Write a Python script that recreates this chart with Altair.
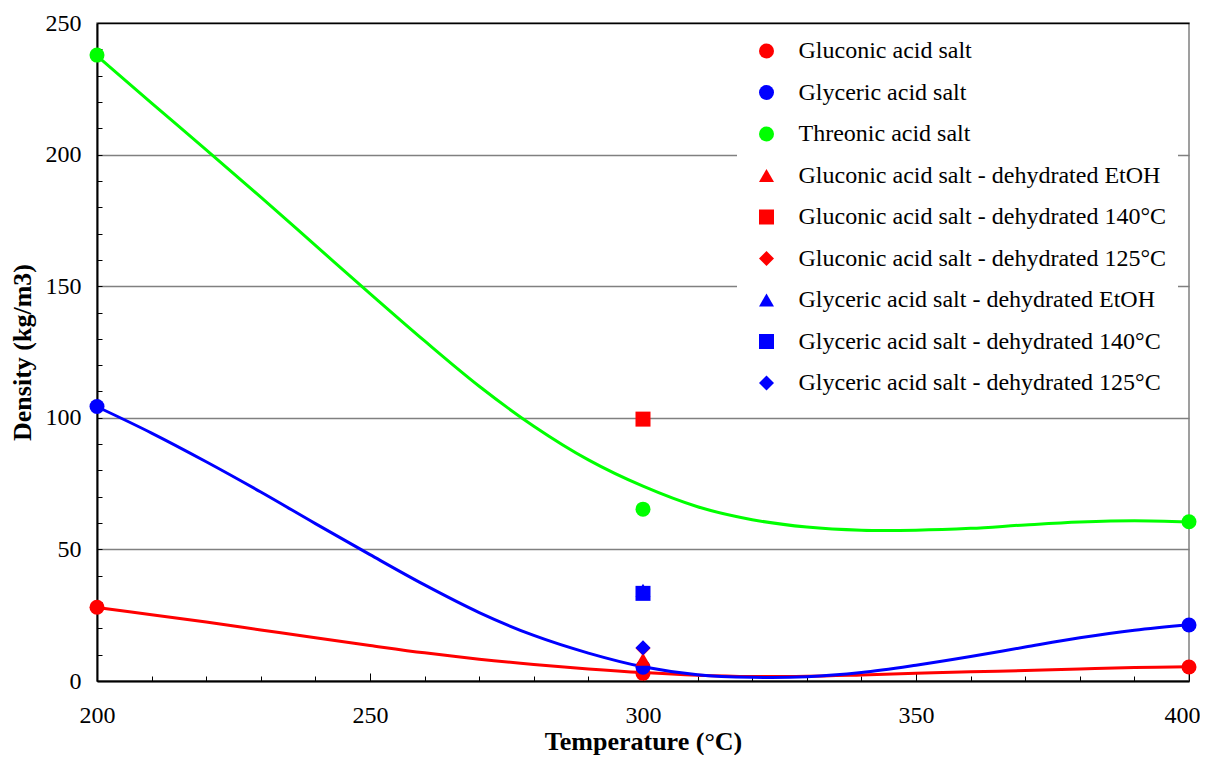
import altair as alt
import pandas as pd

# ---------------- data ----------------
line_T = [200, 210, 220, 230, 240, 250, 260, 270, 280, 290, 300,
          310, 320, 330, 340, 350, 360, 370, 380, 390, 400]
line_red = [27.9, 25.2, 22.4, 19.4, 16.4, 13.5, 10.7, 8.3, 6.3, 4.6, 3.2,
            2.2, 1.7, 1.8, 2.3, 2.9, 3.5, 4.0, 4.6, 5.1, 5.4]
line_blue = [104.2, 94.2, 83.3, 71.8, 59.8, 48.0, 36.5, 26.0, 17.3, 10.6, 5.4,
             2.4, 1.4, 1.6, 3.2, 6.0, 9.3, 12.9, 16.4, 19.3, 21.4]
line_green = [237.5, 219.6, 201.8, 183.8, 165.5, 147.2, 129.2, 112.0, 96.8, 84.0, 74.0,
              66.2, 61.3, 58.5, 57.3, 57.3, 58.0, 59.3, 60.4, 60.9, 60.4]
line_names = ["red", "blue", "green"]
line_colors = ["#FF0000", "#0000FF", "#00FF00"]

series_names = [
    "Gluconic acid salt",
    "Glyceric acid salt",
    "Threonic acid salt",
    "Gluconic acid salt - dehydrated EtOH",
    "Gluconic acid salt - dehydrated 140°C",
    "Gluconic acid salt - dehydrated 125°C",
    "Glyceric acid salt - dehydrated EtOH",
    "Glyceric acid salt - dehydrated 140°C",
    "Glyceric acid salt - dehydrated 125°C",
]
series_colors = ["#FF0000", "#0000FF", "#00FF00",
                 "#FF0000", "#FF0000", "#FF0000",
                 "#0000FF", "#0000FF", "#0000FF"]
series_shapes = ["circle", "circle", "circle",
                 "triangle-up", "square", "diamond",
                 "triangle-up", "square", "diamond"]
series_T = [
    [200, 300, 400],
    [200, 300, 400],
    [200, 300, 400],
    [300], [300], [300], [300], [300], [300],
]
series_D = [
    [28.0, 2.9, 5.3],
    [104.3, 5.2, 21.3],
    [237.8, 65.3, 60.5],
    [8.3], [99.5], [12.4], [34.5], [33.3], [12.6],
]

x_major = [200, 250, 300, 350, 400]
x_minor = list(range(200, 401, 10))
y_major = [0, 50, 100, 150, 200, 250]
y_minor = list(range(0, 251, 10))

# ---------------- tables ----------------
line_rows = []
for name, vals in zip(line_names, [line_red, line_blue, line_green]):
    for t, v in zip(line_T, vals):
        line_rows.append({"T": t, "D": v, "line": name})
lines_df = pd.DataFrame(line_rows)

pt_rows = []
for name, ts, ds in zip(series_names, series_T, series_D):
    for t, d in zip(ts, ds):
        pt_rows.append({"T": t, "D": d, "series": name})
pts_df = pd.DataFrame(pt_rows)

W, H = 1092, 658
FONT = "Liberation Serif"
xscale = alt.Scale(domain=[200, 400], nice=False, zero=False)
yscale = alt.Scale(domain=[0, 250], nice=False)

lines = alt.Chart(lines_df).mark_line(interpolate="catmull-rom", strokeWidth=3).encode(
    x=alt.X("T:Q", scale=xscale, axis=alt.Axis(
        orient="bottom", values=x_major, ticks=False, grid=False,
        domainColor="black", domainWidth=2, labelFont=FONT, labelFontSize=24,
        labelColor="black", labelPadding=22, labelFlush=False,
        labelOffset={"condition": {"test": "datum.value === 400", "value": -7}, "value": 0},
        title="Temperature (°C)", titleFont=FONT, titleFontSize=26,
        titleFontWeight="bold", titleColor="black",
        titleBaseline="alphabetic", titleY=68)),
    y=alt.Y("D:Q", scale=yscale, axis=alt.Axis(
        orient="left", values=y_major, ticks=False, grid=True,
        gridColor={"condition": {"test": "datum.value === 250", "value": "black"},
                   "value": "#808080"},
        gridWidth=1.5, domainColor="black", domainWidth=2,
        labelFont=FONT, labelFontSize=24, labelColor="black", labelPadding=16,
        title="Density (kg/m3)", titleFont=FONT, titleFontSize=26,
        titleFontWeight="bold", titleColor="black", titlePadding=10)),
    stroke=alt.Stroke("line:N", scale=alt.Scale(domain=line_names, range=line_colors),
                      legend=None),
    detail="line:N",
)

points = alt.Chart(pts_df).mark_point(filled=True, opacity=1, size=225).encode(
    x=alt.X("T:Q", scale=xscale, axis=alt.Axis(
        orient="top", offset=-H, values=x_minor, labels=False, domain=False,
        grid=False, ticks=True, tickColor="black", tickWidth=1,
        tickSize={"condition": {"test": "datum.value % 50 === 0", "value": 8}, "value": 5},
        title=None)),
    y=alt.Y("D:Q", scale=yscale, axis=alt.Axis(
        orient="right", offset=-W, values=y_minor, labels=False, domain=False,
        grid=False, ticks=True, tickColor="black", tickWidth=1, tickSize=5,
        title=None)),
    color=alt.Color("series:N", scale=alt.Scale(domain=series_names, range=series_colors),
                    sort=series_names,
                    legend=alt.Legend(
                        title=None, orient="none", legendX=640, legendY=4,
                        fillColor="white", padding=12, symbolSize=225,
                        symbolOffset=5.5, labelOffset=20, rowPadding=17.5,
                        labelFont=FONT, labelFontSize=24, labelColor="black",
                        labelLimit=600, symbolStrokeWidth=0)),
    shape=alt.Shape("series:N", scale=alt.Scale(domain=series_names, range=series_shapes),
                    sort=series_names),
)

chart = alt.layer(lines, points).properties(
    width=W, height=H,
    autosize=alt.AutoSizeParams(type="none"),
    padding={"left": 89, "top": 15, "right": 11, "bottom": 74},
).configure(
    background="white", font=FONT
).configure_view(
    stroke="#808080", strokeWidth=1.5
).configure_axis(
    labelFont=FONT, titleFont=FONT
).configure_legend(
    labelFont=FONT
)

chart.save("out.html", embed_options={"renderer": "svg", "actions": False})
